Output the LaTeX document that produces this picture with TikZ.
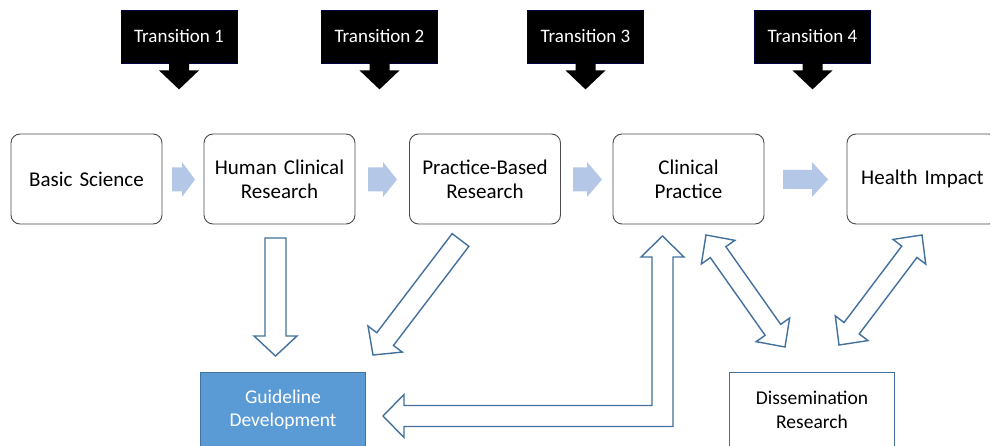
\documentclass[tikz,border=0pt]{standalone}
\usepackage{fontspec}
\setmainfont{Carlito}
\usetikzlibrary{calc}
\definecolor{chev}{HTML}{B4C7E7}
\definecolor{outl}{HTML}{41719C}
\definecolor{gfill}{HTML}{5B9BD5}
\newcommand\blockarr[2]{%
  \draw[blockline] let \p1=($(#2)-(#1)$), \n1={atan2(\y1,\x1)}, \n2={veclen(\x1,\y1)} in
  [shift={(#1)}, rotate=\n1]
  (0pt,-10.5pt) -- ({(\n2-20)*1pt},-10.5pt) -- ({(\n2-20)*1pt},-21.5pt) -- ({\n2*1pt},0pt)
  -- ({(\n2-20)*1pt},21.5pt) -- ({(\n2-20)*1pt},10.5pt) -- (0pt,10.5pt) -- cycle;}
\newcommand\dblarr[2]{%
  \draw[blockline] let \p1=($(#2)-(#1)$), \n1={atan2(\y1,\x1)}, \n2={veclen(\x1,\y1)} in
  [shift={(#1)}, rotate=\n1]
  (0pt,0pt) -- (21pt,20.5pt) -- (21pt,9.5pt) -- ({(\n2-21)*1pt},9.5pt) -- ({(\n2-21)*1pt},20.5pt)
  -- ({\n2*1pt},0pt) -- ({(\n2-21)*1pt},-20.5pt) -- ({(\n2-21)*1pt},-9.5pt) -- (21pt,-9.5pt)
  -- (21pt,-20.5pt) -- cycle;}
\newcommand\chevarrow[5]{% x0, xneck, xtip, half shaft, half head
  \fill[chev] (#1,179.5-#4) -- (#2,179.5-#4) -- (#2,179.5-#5) -- (#3,179.5) -- (#2,179.5+#5)
  -- (#2,179.5+#4) -- (#1,179.5+#4) -- cycle;}
\newcommand\transarrow[1]{%
  \fill[black] (#1.south) ++(-10,-0.5) -- ++(0,7.5) -- ++(-10,0) -- ++(20,19) -- ++(20,-19)
  -- ++(-10,0) -- ++(0,-7.5) -- cycle;}
\begin{document}
\begin{tikzpicture}[x=1pt,y=-1pt,
  mainbox/.style={draw=black!70, line width=0.9pt, rounded corners=9pt, fill=white,
    minimum width=151pt, minimum height=90pt, text width=142pt, align=center,
    font=\fontsize{21}{24}\selectfont, inner sep=0pt},
  transbox/.style={fill=black, draw=black!75!blue, line width=0.8pt, minimum width=116pt,
    minimum height=53pt, inner sep=0pt, text=white, font=\fontsize{19}{22}\selectfont},
  lowbox/.style={draw=outl, line width=0.8pt, minimum width=165pt, minimum height=76pt,
    text width=160pt, align=center, font=\fontsize{19.5}{23.5}\selectfont, inner sep=0pt},
  blockline/.style={draw=outl, line width=1.4pt, fill=white, line join=miter}]
\path[use as bounding box, clip] (0,0) rectangle (990,446);
\fill[white] (0,0) rectangle (990,446);

% transitions
\node[transbox] (t1) at (179,36.5) {Transition 1};
\node[transbox] (t2) at (379.5,36.5) {Transition 2};
\node[transbox] (t3) at (585.5,36.5) {Transition 3};
\node[transbox] (t4) at (812.5,36.5) {Transition 4};
\transarrow{t1}
\transarrow{t2}
\transarrow{t3}
\transarrow{t4}

% main row
\node[mainbox] (bs) at (86.5,179) {Basic Science};
\node[mainbox] (hcr) at (279.5,179) {Human Clinical\\Research};
\node[mainbox] (pbr) at (485,179) {Practice-Based\\Research};
\node[mainbox] (cp) at (688.5,179) {Clinical\\Practice};
\node[mainbox] (hi) at (922.5,179) {Health Impact};

\chevarrow{172}{182}{195}{12}{17.5}
\chevarrow{368}{383}{397}{12}{17.5}
\chevarrow{573}{587}{602}{12}{17.5}
\chevarrow{783}{812}{828}{9.5}{17.5}

% lower boxes
\node[lowbox, fill=gfill, text=white] (gd) at (283,410) {Guideline\\Development};
\node[lowbox, fill=white] (dr) at (812,410) {Dissemination\\Research};

% block arrows
\coordinate (a1s) at (275.5,238);
\coordinate (a1e) at (275.5,356);
\coordinate (a2s) at (460.5,240);
\coordinate (a2e) at (373,355);
\coordinate (a4s) at (706,235);
\coordinate (a4e) at (785,347);
\coordinate (a5s) at (922,235);
\coordinate (a5e) at (839,345);
\coordinate (e1) at (383,416);
\coordinate (e2) at (662.5,236);

\blockarr{a1s}{a1e}
\blockarr{a2s}{a2e}
\dblarr{a4s}{a4e}
\dblarr{a5s}{a5e}

\draw[blockline] (e1) -- ++(21,-21.5) -- ++(0,11)
  -- ($(e2|-e1)+(-10.5,-10.5)$) -- ($(e2)+(-10.5,21)$) -- ($(e2)+(-21.5,21)$) -- (e2)
  -- ($(e2)+(21.5,21)$) -- ($(e2)+(10.5,21)$) -- ($(e2|-e1)+(10.5,10.5)$)
  -- ($(e1)+(21,10.5)$) -- ($(e1)+(21,21.5)$) -- cycle;
\end{tikzpicture}
\end{document}
